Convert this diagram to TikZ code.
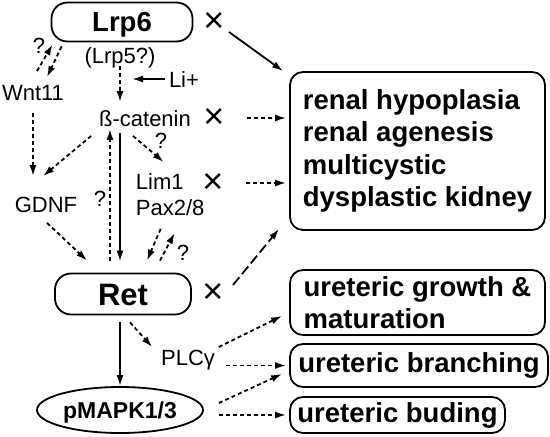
\documentclass[tikz,border=0pt]{standalone}
\usepackage{fontspec}
\setmainfont{Liberation Sans}
\usetikzlibrary{arrows.meta,shapes.geometric,calc}

\begin{document}
\begin{tikzpicture}[
    x=1pt, y=-1pt,
    line width=1.8pt,
    >={Latex[length=11pt,width=7pt]},
    lbl/.style={inner sep=0pt, text height=16pt, text depth=0pt, font=\fontsize{22}{26}\selectfont},
    cross/.style={inner sep=0pt, font=\fontsize{36}{36}\selectfont},
    gene/.style={draw, rounded corners=16pt, inner sep=0pt, text depth=0pt},
    outcome/.style={draw, rounded corners=13pt, inner sep=0pt, align=left, font=\fontsize{27.5}{32.5}\selectfont\bfseries},
    dsh/.style={->, dash pattern=on 4pt off 3pt},
    lng/.style={->, dash pattern=on 10pt off 4pt}
]
\useasboundingbox (0,0) rectangle (550,437);

\node[gene, minimum width=141pt, minimum height=39pt, text height=19pt, font=\fontsize{27.5}{30}\selectfont\bfseries] (lrp6) at (122,22) {Lrp6};
\node[cross] (lrpx) at (214,22) {×};
\node[lbl] (lrpfive) at (120,55) {(Lrp5?)};
\node[lbl] (wnt) at (33,92) {Wnt11};
\node[lbl] (li) at (184,79) {Li+};
\node[lbl] (cat) at (145,118) {ß-catenin};
\node[cross] (catx) at (214,118) {×};
\node[lbl, anchor=west] (lim) at (135,181) {Lim1};
\node[lbl, anchor=west] (pax) at (135,207) {Pax2/8};
\node[cross] (limx) at (213,183) {×};
\node[lbl] (gdnf) at (46,204) {GDNF};
\node[lbl] (qwnt) at (39,45) {?};
\node[lbl] (qlim) at (161,140) {?};
\node[lbl] (qret) at (100,198) {?};
\node[lbl] (qpax) at (183,252) {?};
\node[gene, minimum width=136pt, minimum height=41pt, text height=22pt, font=\fontsize{31}{34}\selectfont\bfseries] (ret) at (123,294) {Ret};
\node[cross] (retx) at (213,293) {×};
\node[lbl] (plc) at (188,357) {PLCγ};
\node[draw, ellipse, minimum width=166pt, minimum height=46pt, inner sep=0pt, text height=16.5pt, text depth=0pt, font=\fontsize{23}{26}\selectfont\bfseries] (mapk) at (120,410) {pMAPK1/3};

\node[outcome, minimum width=255pt, minimum height=158pt] (renal) at (417.5,151) {renal hypoplasia\\renal agenesis\\multicystic\\dysplastic kidney};
\node[outcome, minimum width=255pt, minimum height=65pt] (grow) at (417.5,302.5) {ureteric growth \&\\maturation};
\node[outcome, minimum width=258pt, minimum height=43pt] (branch) at (419,365.5) {ureteric branching};
\node[outcome, minimum width=215pt, minimum height=36pt] (bud) at (397.5,415) {ureteric buding};

% upper part
\draw[->] ($(lrpx)+(15,10)$) -- ($(renal.north west)+(-6,0)$);
\draw[dsh] ($(wnt.north)+(4,-12)$) -- ($(lrp6.south west)+(2,2)$);
\draw[dsh] ($(lrp6.south west)+(11,4)$) -- ($(wnt.north)+(14,-6)$);
\draw[dsh, shorten <=2pt, shorten >=7pt] (lrpfive.south) -- (lrpfive.south |- cat.north);
\draw[->, shorten <=3pt] (li.west) -- ($(lrpfive.south |- li.west)+(12,0)$);
\draw[dsh, shorten <=12pt, shorten >=19pt] (wnt.south) -- (wnt.south |- gdnf.north);
\draw[dsh] ($(cat.south west)+(-7,9)$) -- ($(gdnf.north)+(-3,-19)$);
\draw[dsh] ($(cat.south)+(-12,9)$) -- ($(lim.north)+(4,-10)$);
\draw[->] ($(cat.south -| ret.north)+(-3,6)$) -- ($(ret.north)+(-3,-11)$);
\draw[dsh] ($(ret.north)+(-13,-12)$) -- ($(cat.south -| ret.north)+(-13,2)$);
\draw[dsh, shorten <=22pt, shorten >=3pt] (catx) -- (renal.west |- catx);
\draw[dsh, shorten <=22pt, shorten >=3pt] (limx) -- (renal.west |- limx);
\draw[dsh] ($(gdnf.south)+(1,10)$) -- ($(ret.north west)+(33,-12)$);
\draw[dsh] ($(pax.south)+(-9.5,13)$) -- ($(ret.north)+(24,-12)$);
\draw[dsh] ($(ret.north)+(37,-12)$) -- ($(pax.south)+(4.5,17)$);

% lower part
\draw[lng] ($(retx)+(20,-8)$) -- ($(renal.south west)+(-10,-2)$);
\draw[->] ($(ret.south)+(-3,7)$) -- (mapk.north);
\draw[dsh] ($(ret.south)+(7,7)$) -- ($(plc.west)+(-8,-10)$);
\draw[dsh] ($(plc.east)+(3,-10)$) -- ($(grow.south west)+(-7,-20)$);
\draw[dsh, shorten >=3pt] ($(plc.east |- branch.west)+(10,0)$) -- (branch.west);
\draw[dsh] ($(mapk.east)+(15,-7)$) -- ($(branch.south west)+(-7,-14)$);
\draw[dsh, shorten >=3pt] ($(mapk.east |- bud.west)+(15,0)$) -- (bud.west);

\end{tikzpicture}
\end{document}
